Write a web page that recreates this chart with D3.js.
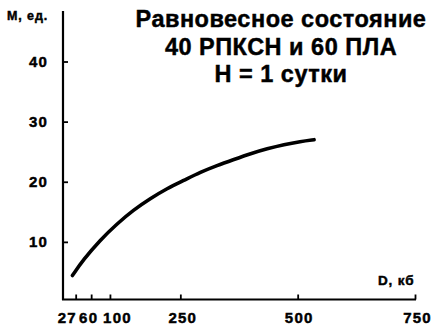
<!DOCTYPE html>
<html><head><meta charset="utf-8">
<script src="https://cdn.jsdelivr.net/npm/d3@7"></script>
<style>
body{margin:0;background:#fff;}
svg text{font-family:Arial,"Liberation Sans",sans-serif;font-weight:bold;fill:#000;stroke:#000;stroke-width:0.45px;paint-order:stroke;}
</style></head>
<body>
<svg id="c" width="434" height="329"></svg>
<script>
const titleLines = ["Равновесное состояние", "40 РПКСН и 60 ПЛА", "Н = 1 сутки"];
const xTicks = [27, 60, 100, 250, 500, 750];
const yTicks = [10, 20, 30, 40];
const distD = [20, 43, 79, 115, 150, 186, 222, 257, 293, 328, 364, 400, 435, 471, 506, 535];
const unitsM = [4.4, 7.0, 10.3, 13.0, 15.3, 17.2, 18.9, 20.2, 21.6, 22.7, 23.7, 24.7, 25.5, 26.2, 26.7, 27.0];
const yLabel = "M, ед.";
const xLabel = "D, кб";
// horizontal nudges of crowded x tick labels (layout only)
const xLabelNudge = {27: -9, 60: -3, 100: 7, 250: 2, 500: 1, 750: 2};

const svg = d3.select("#c");
const x = d3.scaleLinear().domain([0, 750]).range([63, 415]);
const y = d3.scaleLinear().domain([0, 40]).range([302, 61.5]);

// axes
const xAxis = d3.axisBottom(x).tickValues(xTicks).tickSize(-5).tickPadding(13).tickSizeOuter(0);
const gx = svg.append("g").attr("transform","translate(0,299.5)").call(xAxis);
gx.attr("font-family", null).attr("font-size", null);
gx.select(".domain").attr("stroke","#000").attr("stroke-width",2.2).attr("d","M62,0H416");
gx.selectAll(".tick line").attr("stroke","#000").attr("stroke-width",1.8);
gx.selectAll(".tick text").attr("font-size",15).attr("letter-spacing",1.2).attr("dy","0.72em")
  .attr("dx", d => xLabelNudge[d] || 0);

const yAxis = d3.axisLeft(y).tickValues(yTicks).tickSize(-5).tickPadding(15).tickSizeOuter(0);
const gy = svg.append("g").attr("transform","translate(63,0)").call(yAxis);
gy.attr("font-family", null).attr("font-size", null);
gy.select(".domain").attr("stroke","#000").attr("stroke-width",2.2).attr("d","M0,11V300");
gy.selectAll(".tick line").attr("stroke","#000").attr("stroke-width",1.8);
gy.selectAll(".tick text").attr("font-size",15).attr("letter-spacing",1.2);

// curve
const pts = distD.map((d,i)=>[d, unitsM[i]]);
const line = d3.line().x(d=>x(d[0])).y(d=>y(d[1])).curve(d3.curveBasis);
svg.append("path").datum(pts).attr("d",line).attr("fill","none").attr("stroke","#000")
  .attr("stroke-width",3.6).attr("stroke-linecap","round");

// labels
svg.append("text").attr("x",7).attr("y",20).attr("font-size",12.5).attr("letter-spacing",0.9).text(yLabel);
svg.append("text").attr("x",378).attr("y",285).attr("font-size",13.5).attr("letter-spacing",0.8).text(xLabel);

svg.append("g").selectAll("text").data(titleLines).join("text")
  .attr("x",281).attr("y",(d,i)=>27+i*27.5).attr("text-anchor","middle")
  .attr("font-size",23.5).attr("letter-spacing",0.5).text(d=>d);
</script>
</body></html>
